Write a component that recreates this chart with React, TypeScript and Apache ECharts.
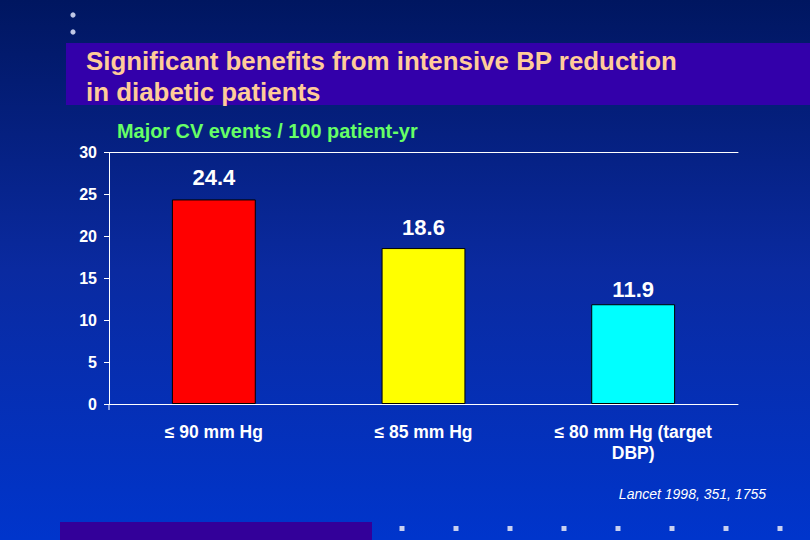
import React, { useEffect, useRef } from "react";
import * as echarts from "echarts";

const categories = ["≤ 90 mm Hg", "≤ 85 mm Hg", "≤ 80 mm Hg (target\nDBP)"];
const values = [24.4, 18.6, 11.9];
const barColors = ["#ff0000", "#ffff00", "#00ffff"];
const labelGaps = [11, 10, 4];
const yTicks = [0, 5, 10, 15, 20, 25, 30];
const titleLines = ["Significant benefits from intensive BP reduction", "in diabetic patients"];
const subtitle = "Major CV events / 100 patient-yr";
const citation = "Lancet 1998, 351, 1755";
const bottomDotsX = [402, 456, 510, 564, 618, 672, 726, 780];

export default function App() {
  const ref = useRef<HTMLDivElement>(null);
  useEffect(() => {
    document.body.style.margin = "0";
    const chart = echarts.init(ref.current!, null, { renderer: "svg" });
    const font = "'Liberation Sans', Arial, sans-serif";
    const graphics: any[] = [
      { type: "rect", shape: { x: 66, y: 43, width: 744, height: 62 }, style: { fill: "#3300aa" }, z: 0 },
      { type: "circle", shape: { cx: 73, cy: 15, r: 2.6 }, style: { fill: "#c0c8e6" } },
      { type: "circle", shape: { cx: 73, cy: 32, r: 2.6 }, style: { fill: "#c0c8e6" } },
      {
        type: "text",
        x: 86,
        y: 61,
        style: {
          text: titleLines[0],
          fill: "#ffcc99",
          font: `bold 25.9px ${font}`,
          verticalAlign: "middle",
        },
      },
      {
        type: "text",
        x: 86,
        y: 92,
        style: {
          text: titleLines[1],
          fill: "#ffcc99",
          font: `bold 25.9px ${font}`,
          verticalAlign: "middle",
        },
      },
      {
        type: "text",
        x: 117,
        y: 131,
        style: {
          text: subtitle,
          fill: "#66ff66",
          font: `bold 19.9px ${font}`,
          verticalAlign: "middle",
        },
      },
      {
        type: "text",
        x: 766,
        y: 494,
        style: {
          text: citation,
          fill: "#ffffff",
          font: `italic 14px ${font}`,
          align: "right",
          verticalAlign: "middle",
        },
      },
      { type: "rect", shape: { x: 60, y: 522, width: 312, height: 18 }, style: { fill: "#330099" } },
      { type: "line", shape: { x1: 109, y1: 404, x2: 109, y2: 410 }, style: { stroke: "#ffffff", lineWidth: 1 } },
      ...bottomDotsX.map((x) => ({
        type: "rect",
        shape: { x: x - 2.5, y: 526, width: 5, height: 5 },
        style: { fill: "#c8d0f0" },
      })),
    ];
    chart.setOption({
      animation: false,
      backgroundColor: new echarts.graphic.LinearGradient(0, 0, 0, 1, [
        { offset: 0, color: "#001660" },
        { offset: 0.5, color: "#0a2aa0" },
        { offset: 1, color: "#0035cc" },
      ]),
      grid: { left: 109, right: 72, top: 152.5, bottom: 136 },
      xAxis: [
        {
          type: "category",
          data: categories,
          axisLine: { lineStyle: { color: "#ffffff", width: 1 } },
          axisTick: { show: false },
          axisLabel: {
            color: "#ffffff",
            fontFamily: font,
            fontWeight: "bold",
            fontSize: 17.5,
            lineHeight: 21,
            margin: 17,
            align: "center",
          },
        },
        {
          type: "category",
          position: "top",
          data: categories,
          axisLine: { show: true, lineStyle: { color: "#ffffff", width: 1 } },
          axisTick: { show: false },
          axisLabel: { show: false },
        },
      ],
      yAxis: {
        type: "value",
        min: yTicks[0],
        max: yTicks[yTicks.length - 1],
        interval: 5,
        axisLine: { show: true, lineStyle: { color: "#ffffff", width: 1 } },
        axisTick: { show: true, length: 5, lineStyle: { color: "#ffffff" } },
        splitLine: { show: false },
        axisLabel: {
          color: "#ffffff",
          fontFamily: font,
          fontWeight: "bold",
          fontSize: 16,
          margin: 12,
        },
      },
      series: [
        {
          type: "bar",
          data: values.map((v, i) => ({
            value: v,
            itemStyle: { color: barColors[i] },
            label: { distance: labelGaps[i] },
          })),
          barWidth: "40%",
          itemStyle: { borderColor: "#000000", borderWidth: 1 },
          label: {
            show: true,
            position: "top",
            color: "#ffffff",
            fontFamily: font,
            fontWeight: "bold",
            fontSize: 22,
            formatter: (p: any) => p.value.toFixed(1),
          },
        },
      ],
      graphic: graphics,
    });
    return () => chart.dispose();
  }, []);
  return <div ref={ref} style={{ width: 810, height: 540 }} />;
}
